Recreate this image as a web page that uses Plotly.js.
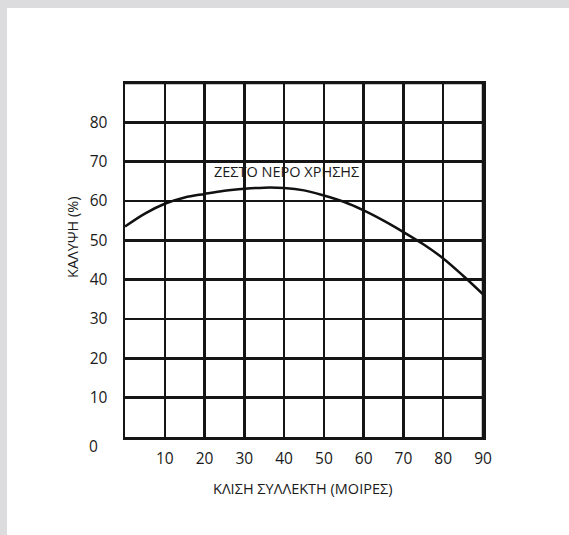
<!DOCTYPE html>
<html>
<head>
<meta charset="utf-8">
<script src="https://cdn.plot.ly/plotly-3.0.1.min.js"></script>
<style>
  html, body { margin: 0; padding: 0; background: #dcdcde; width: 569px; height: 535px; overflow: hidden; }
  #chart { position: absolute; left: 7px; top: 8px; width: 562px; height: 527px; background: #ffffff; }
</style>
</head>
<body>
<div id="chart"></div>
<script>
// Collector tilt (degrees)
const tiltDeg = [0, 5, 10, 15, 20, 25, 30, 35, 40, 45, 50, 55, 60, 65, 70, 75, 80, 85, 90];
// Coverage (%) for domestic hot water
const coverage = [53.5, 56.8, 59.3, 60.9, 61.8, 62.6, 63.1, 63.4, 63.3, 62.7, 61.4, 59.8, 57.6, 55.0, 52.1, 49.0, 45.4, 41.0, 36.3];

const xTickVals = [10, 20, 30, 40, 50, 60, 70, 80, 90];
const xTickText = ['10', '20', '30', '40', '50', '60', '70', '80', '90'];
const yTickVals = [10, 20, 30, 40, 50, 60, 70, 80];
const yTickText = ['10', '20', '30', '40', '50', '60', '70', '80'];

const seriesLabel = 'ΖΕΣΤΟ ΝΕΡΟ ΧΡΗΣΗΣ';
const xTitle = 'ΚΛΙΣΗ ΣΥΛΛΕΚΤΗ (ΜΟΙΡΕΣ)';
const yTitle = 'ΚΑΛΥΨΗ (%)';

const FONT = '"Open Sans", "DejaVu Sans", sans-serif';
const TXT = '#1a1a1a';

const trace = {
  x: tiltDeg,
  y: coverage,
  type: 'scatter',
  mode: 'lines',
  line: { color: '#111111', width: 2.5, shape: 'spline', smoothing: 1 },
  hoverinfo: 'skip',
  showlegend: false
};

const layout = {
  width: 562,
  height: 527,
  margin: { l: 118, r: 86, t: 75, b: 98 },
  paper_bgcolor: '#ffffff',
  plot_bgcolor: '#ffffff',
  font: { family: FONT, color: TXT, size: 15 },
  showlegend: false,
  xaxis: {
    range: [0, 90],
    tickmode: 'array',
    tickvals: xTickVals,
    ticktext: xTickText,
    ticks: '',
    ticklabelstandoff: 6,
    showgrid: true,
    gridcolor: '#151515',
    gridwidth: 2.5,
    zeroline: false,
    showline: true,
    linecolor: '#151515',
    linewidth: 2.5,
    mirror: true,
    fixedrange: true,
    tickfont: { family: FONT, size: 15.5, color: TXT }
  },
  yaxis: {
    range: [0, 90],
    tickmode: 'array',
    tickvals: yTickVals,
    ticktext: yTickText,
    ticks: '',
    ticklabelstandoff: 12,
    showgrid: true,
    gridcolor: '#151515',
    gridwidth: 2.5,
    zeroline: false,
    showline: true,
    linecolor: '#151515',
    linewidth: 2.5,
    mirror: true,
    fixedrange: true,
    tickfont: { family: FONT, size: 15.5, color: TXT }
  },
  shapes: [
    { type: 'line', xref: 'x', yref: 'paper', x0: 90, x1: 90, y0: 0, y1: 1,
      line: { color: '#151515', width: 2.5 } },
    { type: 'line', xref: 'paper', yref: 'y', x0: 0, x1: 1, y0: 90, y1: 90,
      line: { color: '#151515', width: 2.5 } }
  ],
  annotations: [
    { text: seriesLabel, x: 40.7, y: 67.6, xref: 'x', yref: 'y', showarrow: false,
      font: { family: FONT, size: 14.5, color: TXT } },
    { text: '0', x: 0, y: 0, xref: 'paper', yref: 'y', xanchor: 'right', yanchor: 'middle',
      xshift: -25, yshift: -9, showarrow: false,
      font: { family: FONT, size: 15.5, color: TXT } },
    { text: xTitle, x: 0.5, y: 0, xref: 'paper', yref: 'paper', xanchor: 'center', yanchor: 'middle',
      yshift: -51, xshift: -2, showarrow: false,
      font: { family: FONT, size: 14.5, color: TXT } },
    { text: yTitle, x: 0, y: 0.5, xref: 'paper', yref: 'paper', xanchor: 'center', yanchor: 'middle',
      xshift: -53, yshift: 22, textangle: -90, showarrow: false,
      font: { family: FONT, size: 14.5, color: TXT } }
  ]
};

Plotly.newPlot('chart', [trace], layout, { displayModeBar: false, staticPlot: true });
</script>
</body>
</html>
